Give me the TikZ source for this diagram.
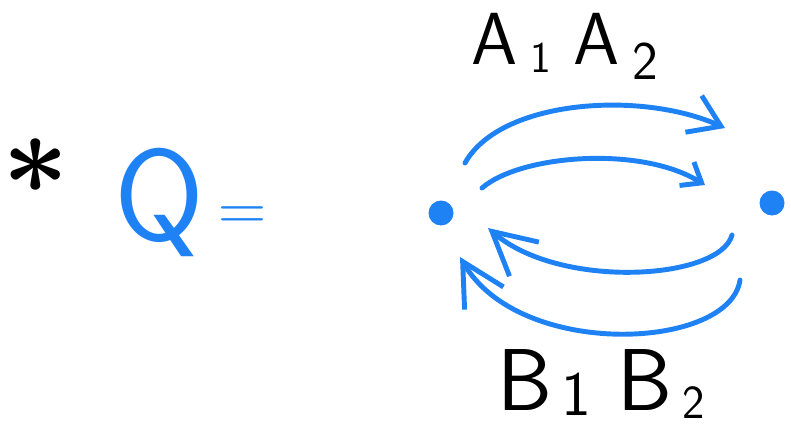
\RequirePackage{fix-cm}
\documentclass[tikz,border=0pt]{standalone}
\usetikzlibrary{arrows.meta}
\definecolor{qBlue}{RGB}{30,130,245}
\newcommand{\lowidx}[3]{\raisebox{-#2}{\fontsize{#1}{#1}\selectfont #3}}
\tikzset{
  pen/.style  = {draw=qBlue, line width=2.8pt, line cap=round, line join=round},
  vtx/.style  = {circle, fill=qBlue, inner sep=0pt, minimum size=5mm},
  hand/.style = {inner sep=0pt, anchor=base west},
  Bs/.style   = {-{Straight Barb[length=3.5mm,width=5.5mm]}},
  Bm/.style   = {-{Straight Barb[length=6mm,width=8mm]}},
  Bl/.style   = {-{Straight Barb[length=8.5mm,width=9mm]}},
}
\begin{document}
\begin{tikzpicture}[x=0.02cm,y=-0.02cm]
\useasboundingbox (0,0) rectangle (791,433);

%% left part: * Q =
\node[inner sep=0pt, font=\fontsize{66}{70}\selectfont\boldmath] (star) at (36,166) {$\ast$};
\node[hand, text=qBlue, font=\sffamily\fontsize{74}{78}\selectfont] (Q) at (114,240) {Q};
\node[inner sep=0pt, text=qBlue, font=\fontsize{38}{42}\selectfont] (eq) at (243,219) {=};

%% vertices
\node[vtx] (L) at (441,213) {};
\node[vtx] (R) at (772,203) {};

%% arrow ends
\coordinate (a1s) at (465,163); \coordinate (a1e) at (725,128);
\coordinate (a2s) at (482,188); \coordinate (a2e) at (705,185);
\coordinate (b2s) at (732,235); \coordinate (b2e) at (488,228);
\coordinate (b1s) at (740,280); \coordinate (b1e) at (460,257);

%% arrows L -> R
\draw[pen, Bm] (a1s) .. controls (500,100) and (640,90) .. (a1e);
\draw[pen, Bs] (a2s) .. controls (520,155) and (640,145) .. (a2e);

%% arrows R -> L
\draw[pen, Bl] (b2s) .. controls (720,280) and (560,290) .. (b2e);
\draw[pen, Bl] (b1s) .. controls (730,350) and (520,360) .. (b1e);

%% labels
\node[hand, font=\sffamily\fontsize{42}{46}\selectfont] (labA) at (471,64)
  {A\kern0.18em\lowidx{25pt}{5pt}{1}\kern0.3em A\kern0.18em\lowidx{31pt}{9pt}{2}};
\node[hand, font=\sffamily\fontsize{50}{54}\selectfont] (labB) at (497,410)
  {B\kern0.1em\lowidx{36pt}{3pt}{1}\kern0.3em B\kern0.12em\lowidx{27pt}{5pt}{2}};

\end{tikzpicture}
\end{document}
